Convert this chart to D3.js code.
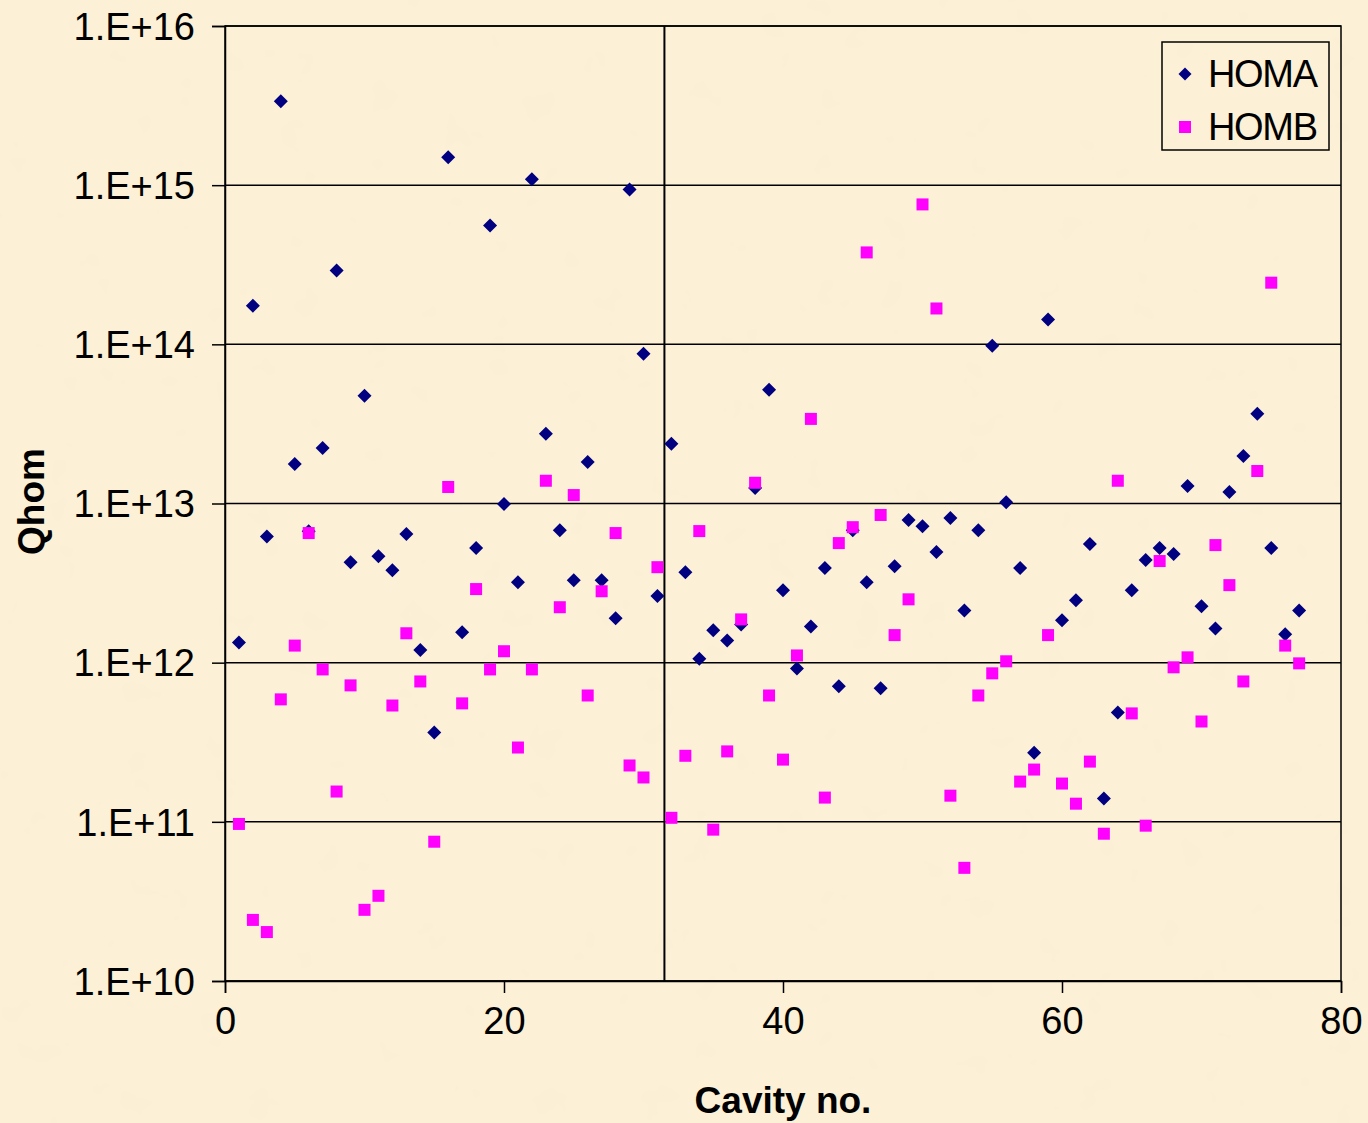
<!DOCTYPE html>
<html>
<head>
<meta charset="utf-8">
<script src="https://cdn.jsdelivr.net/npm/d3@7"></script>
<style>
  html, body { margin: 0; padding: 0; background: #fcf0d6; }
  svg { display: block; font-family: "Liberation Sans", Arial, sans-serif; }
</style>
</head>
<body>
<div id="chart"></div>
<script>
// ---- Data ----
const cavities = d3.range(1, 78);

const homA = [
  1.34e12, 1.75e14, 6.2e12, 3.37e15, 1.77e13, 6.7e12, 2.23e13, 2.91e14, 4.28e12, 4.75e13,
  4.67e12, 3.81e12, 6.43e12, 1.2e12, 3.64e11, 1.5e15, 1.55e12, 5.25e12, 5.58e14, 9.93e12,
  3.2e12, 1.09e15, 2.74e13, 6.8e12, 3.3e12, 1.82e13, 3.3e12, 1.9e12, 9.4e14, 8.73e13,
  2.62e12, 2.37e13, 3.7e12, 1.06e12, 1.6e12, 1.38e12, 1.74e12, 1.25e13, 5.19e13, 2.85e12,
  9.2e11, 1.69e12, 3.93e12, 7.1e11, 6.8e12, 3.2e12, 6.9e11, 4.04e12, 7.87e12, 7.2e12,
  4.95e12, 8.1e12, 2.13e12, 6.8e12, 9.8e13, 1.02e13, 3.93e12, 2.72e11, 1.43e14, 1.85e12,
  2.47e12, 5.56e12, 1.4e11, 4.87e11, 2.85e12, 4.41e12, 5.25e12, 4.81e12, 1.29e13, 2.26e12,
  1.64e12, 1.18e13, 1.99e13, 3.66e13, 5.25e12, 1.51e12, 2.13e12
];

const homB = [
  9.7e10, 2.42e10, 2.03e10, 5.88e11, 1.28e12, 6.52e12, 9.07e11, 1.55e11, 7.2e11, 2.8e10,
  3.43e10, 5.38e11, 1.53e12, 7.62e11, 7.5e10, 1.27e13, 5.55e11, 2.9e12, 9.07e11, 1.18e12,
  2.93e11, 9.07e11, 1.39e13, 2.23e12, 1.13e13, 6.22e11, 2.81e12, 6.52e12, 2.26e11, 1.9e11,
  3.98e12, 1.06e11, 2.6e11, 6.71e12, 8.93e10, 2.77e11, 1.87e12, 1.35e13, 6.22e11, 2.46e11,
  1.11e12, 3.4e13, 1.42e11, 5.64e12, 7.1e12, 3.78e14, 8.47e12, 1.49e12, 2.5e12, 7.57e14,
  1.68e14, 1.46e11, 5.14e10, 6.22e11, 8.57e11, 1.02e12, 1.79e11, 2.13e11, 1.49e12, 1.74e11,
  1.3e11, 2.39e11, 8.42e10, 1.39e13, 4.8e11, 9.46e10, 4.35e12, 9.35e11, 1.08e12, 4.27e11,
  5.48e12, 3.07e12, 7.62e11, 1.6e13, 2.44e14, 1.28e12, 9.9e11
];

const seriesNames = ["HOMA", "HOMB"];
const xTicks = [0, 20, 40, 60, 80];
const yTicks = [1e10, 1e11, 1e12, 1e13, 1e14, 1e15, 1e16];
const dividerX = 31.5;

// ---- Layout ----
const width = 1368, height = 1123;
const margin = { top: 26, right: 27, bottom: 142, left: 225 };
const innerWidth = width - margin.left - margin.right;
const innerHeight = height - margin.top - margin.bottom;

const colors = { HOMA: "#000080", HOMB: "#ff00ff" };
const fontSize = 38;
const bg = "#fcf0d6";

const svg = d3.select("#chart")
  .append("svg")
  .attr("width", width)
  .attr("height", height);

// parchment-like background texture
const defs = svg.append("defs");
const paper = defs.append("filter")
  .attr("id", "paper")
  .attr("x", 0).attr("y", 0).attr("width", "100%").attr("height", "100%");
paper.append("feTurbulence")
  .attr("type", "fractalNoise")
  .attr("baseFrequency", 0.025)
  .attr("numOctaves", 3)
  .attr("seed", 4)
  .attr("result", "noise");
paper.append("feColorMatrix")
  .attr("in", "noise")
  .attr("type", "matrix")
  .attr("values", "0 0 0 0 0.93  0 0 0 0 0.86  0 0 0 0 0.66  0 0 0 0.22 -0.06");

svg.append("rect")
  .attr("width", width)
  .attr("height", height)
  .attr("fill", bg);

svg.append("rect")
  .attr("width", width)
  .attr("height", height)
  .attr("filter", "url(#paper)");

const inner = svg.append("g")
  .attr("transform", `translate(${margin.left},${margin.top})`);

// ---- Scales ----
const xScale = d3.scaleLinear().domain([0, 80]).range([0, innerWidth]);
const yScale = d3.scaleLog().domain([1e10, 1e16]).range([innerHeight, 0]);

// ---- Gridlines ----
inner.selectAll(".grid")
  .data(yTicks)
  .join("line")
  .attr("class", "grid")
  .attr("x1", 0)
  .attr("x2", innerWidth)
  .attr("y1", d => yScale(d))
  .attr("y2", d => yScale(d))
  .attr("stroke", "#000")
  .attr("stroke-width", 1.5);

// plot border
inner.append("rect")
  .attr("width", innerWidth)
  .attr("height", innerHeight)
  .attr("fill", "none")
  .attr("stroke", "#000")
  .attr("stroke-width", 1.5);

// divider line
inner.append("line")
  .attr("x1", xScale(dividerX))
  .attr("x2", xScale(dividerX))
  .attr("y1", 0)
  .attr("y2", innerHeight)
  .attr("stroke", "#000")
  .attr("stroke-width", 2);

// ---- Axes ----
const expFormat = d => "1.E+" + Math.round(Math.log10(d));

const yAxis = inner.append("g")
  .call(d3.axisLeft(yScale).tickValues(yTicks).tickFormat(expFormat).tickSize(13).tickPadding(17));

const xAxis = inner.append("g")
  .attr("transform", `translate(0,${innerHeight})`)
  .call(d3.axisBottom(xScale).tickValues(xTicks).tickFormat(d3.format("d")).tickSize(12).tickPadding(14));

[yAxis, xAxis].forEach(ax => {
  ax.select(".domain").attr("stroke", "#000").attr("stroke-width", 1.5);
  ax.selectAll(".tick line").attr("stroke", "#000").attr("stroke-width", 1.5);
  ax.selectAll(".tick text")
    .attr("fill", "#000")
    .style("font-size", fontSize + "px")
    .style("font-family", "'Liberation Sans', Arial, sans-serif");
});
yAxis.selectAll(".tick text").attr("dy", "0.35em");
xAxis.selectAll(".tick text").attr("dy", "0.71em");

// axis titles
inner.append("text")
  .attr("x", xScale(40))
  .attr("y", innerHeight + 132)
  .attr("text-anchor", "middle")
  .style("font-size", "37px")
  .style("font-weight", "bold")
  .text("Cavity no.");

inner.append("text")
  .attr("transform", "rotate(-90)")
  .attr("x", -(yScale(1e13) - 2))
  .attr("y", -181)
  .attr("text-anchor", "middle")
  .style("font-size", "37px")
  .style("font-weight", "bold")
  .text("Qhom");

// ---- Markers ----
const diamond = "M0,-7L7,0L0,7L-7,0Z";

inner.selectAll(".pointA")
  .data(homA)
  .join("path")
  .attr("class", "pointA")
  .attr("d", diamond)
  .attr("transform", (d, i) => `translate(${xScale(cavities[i])},${yScale(d)})`)
  .attr("fill", colors.HOMA);

inner.selectAll(".pointB")
  .data(homB)
  .join("rect")
  .attr("class", "pointB")
  .attr("x", (d, i) => xScale(cavities[i]) - 6)
  .attr("y", d => yScale(d) - 6)
  .attr("width", 12)
  .attr("height", 12)
  .attr("fill", colors.HOMB);

// ---- Legend ----
const legend = inner.append("g")
  .attr("transform", `translate(${1162 - margin.left},${42 - margin.top})`);

legend.append("rect")
  .attr("width", 167)
  .attr("height", 108)
  .attr("fill", "none")
  .attr("stroke", "#000")
  .attr("stroke-width", 1.5);

const legendItem = legend.selectAll(".legend-item")
  .data(seriesNames)
  .join("g")
  .attr("class", "legend-item")
  .attr("transform", (d, i) => `translate(0,${32 + i * 53})`);

legendItem.append("path")
  .attr("d", d => d === "HOMA" ? "M0,-6.5L6.5,0L0,6.5L-6.5,0Z" : "M-6,-6H6V6H-6Z")
  .attr("transform", "translate(23,0)")
  .attr("fill", d => colors[d]);

legendItem.append("text")
  .attr("x", 46)
  .attr("y", 13)
  .style("font-size", "38px")
  .attr("textLength", 110)
  .text(d => d);
</script>
</body>
</html>
